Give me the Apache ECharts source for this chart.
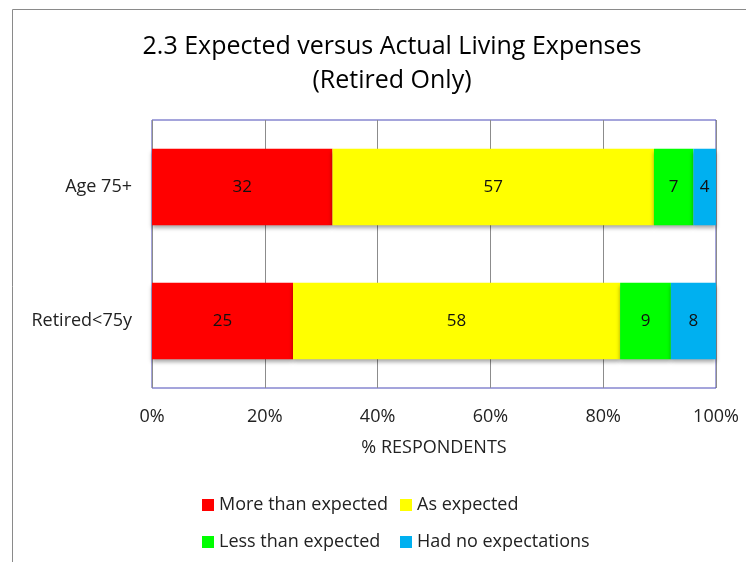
<!DOCTYPE html>
<html><head><meta charset="utf-8">
<script src="https://cdn.jsdelivr.net/npm/echarts@6/dist/echarts.min.js"></script>
<style>html,body{margin:0;padding:0;background:#fff}#c{width:746px;height:562px}</style>
</head><body><div id="c"></div>
<script>
const categories = ['Age 75+', 'Retired<75y'];
const seriesNames = ['More than expected', 'As expected', 'Less than expected', 'Had no expectations'];
const moreThan = [32, 25];
const asExpected = [57, 58];
const lessThan = [7, 9];
const noExpect = [4, 8];
const colors = ['#FF0000', '#FFFF00', '#00FF00', '#00B0F0'];
const xTicks = [0, 20, 40, 60, 80, 100];

const FONT = '"Open Sans", "Noto Sans", sans-serif';
const values = [moreThan, asExpected, lessThan, noExpect];
const legendPos = [[197, 491], [395, 491], [197, 528], [395, 528]];
const chart = echarts.init(document.getElementById('c'));
chart.setOption({
  animation: false,
  textStyle: {fontFamily: FONT},
  graphic: [{type: 'rect', shape: {x: 12.5, y: 9.5, width: 800, height: 600}, style: {fill: 'none', stroke: '#8a8a8a', lineWidth: 1}}],
  title: {
    text: '2.3 Expected versus Actual Living Expenses\n(Retired Only)',
    left: 387, top: 25, textAlign: 'center',
    textStyle: {fontFamily: FONT, fontSize: 25, fontWeight: 'normal', color: '#000', lineHeight: 34}
  },
  legend: seriesNames.map((n, i) => ({
    data: [n], left: legendPos[i][0], top: legendPos[i][1], itemWidth: 12, itemHeight: 12, icon: 'rect',
    textStyle: {fontFamily: FONT, fontSize: 18, color: '#222'}
  })),
  grid: {left: 152, right: 30, top: 120, bottom: 174, show: true, borderColor: '#4a4ab8', borderWidth: 1},
  xAxis: {
    type: 'value', min: 0, max: 100, interval: 20,
    name: '% RESPONDENTS', nameLocation: 'middle', nameGap: 51,
    nameTextStyle: {fontFamily: FONT, fontSize: 18, color: '#222'},
    axisLine: {show: false}, axisTick: {show: false},
    axisLabel: {margin: 20, fontSize: 18, color: '#222', fontFamily: FONT,
      formatter: v => xTicks.includes(v) ? v + '%' : ''},
    splitLine: {show: true, lineStyle: {color: '#8c8c8c', width: 1}}
  },
  yAxis: {
    type: 'category', data: categories, inverse: true,
    axisLine: {show: false}, axisTick: {show: false},
    axisLabel: {margin: 20, fontSize: 18, color: '#222', fontFamily: FONT}
  },
  series: seriesNames.map((n, i) => ({
    name: n, type: 'bar', stack: 'total', barWidth: '57%',
    data: values[i],
    itemStyle: {color: colors[i], shadowColor: 'rgba(0,0,0,0.35)', shadowBlur: 4, shadowOffsetY: 3},
    label: {show: true, position: 'inside', color: '#111', fontSize: 17, fontFamily: FONT}
  }))
});
</script></body></html>
